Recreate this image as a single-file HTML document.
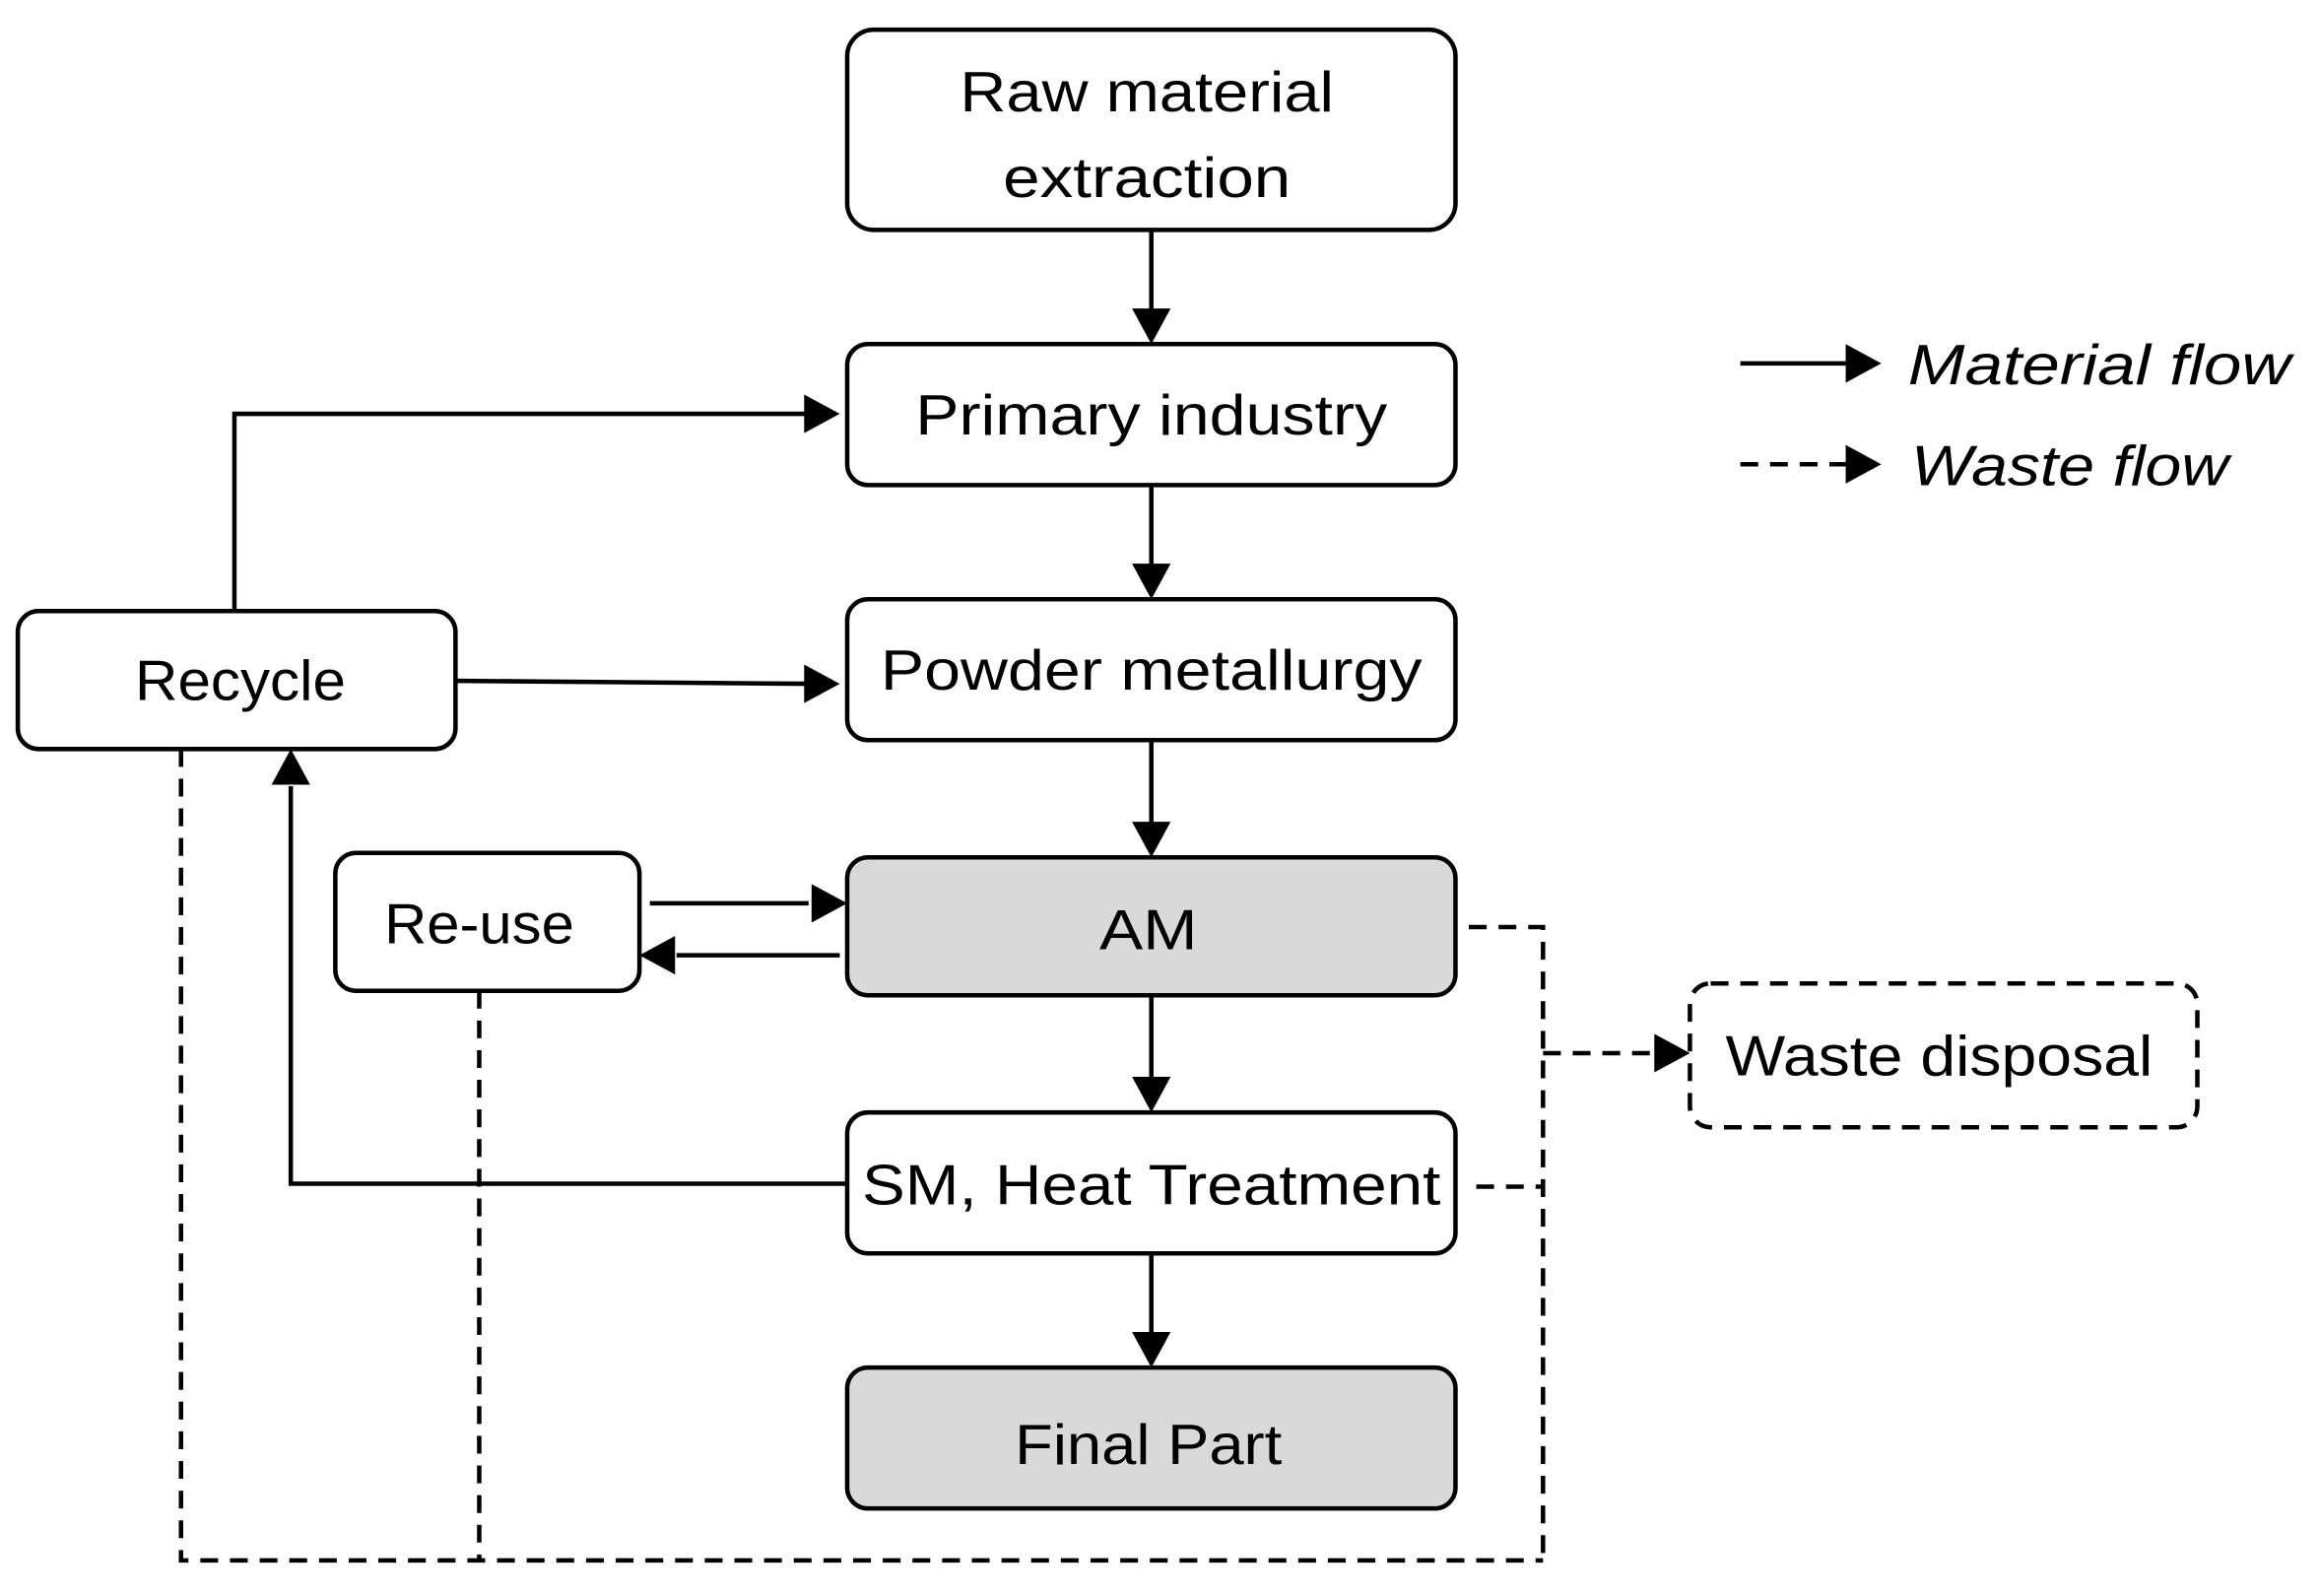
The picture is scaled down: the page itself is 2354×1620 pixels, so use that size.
<!DOCTYPE html>
<html><head><meta charset="utf-8"><style>html,body{margin:0;padding:0;background:#fff}svg{display:block}</style></head>
<body>
<svg width="2354" height="1620" viewBox="0 0 1563 1076" preserveAspectRatio="none" xmlns="http://www.w3.org/2000/svg" font-family="Liberation Sans, sans-serif" font-size="38">
<defs>
<marker id="a" markerWidth="10" markerHeight="10" refX="9" refY="5" orient="auto" markerUnits="userSpaceOnUse" viewBox="0 0 10 10">
</marker>
</defs>
<g fill="none" stroke="#000" stroke-width="3">
<rect x="571" y="20" width="410" height="135" rx="18" fill="#fff"/>
<rect x="571" y="232" width="410" height="95" rx="14" fill="#fff"/>
<rect x="571" y="404" width="410" height="95" rx="14" fill="#fff"/>
<rect x="571" y="578" width="410" height="93" rx="14" fill="#d9d9d9"/>
<rect x="571" y="750" width="410" height="95" rx="14" fill="#fff"/>
<rect x="571" y="922" width="410" height="95" rx="14" fill="#d9d9d9"/>
<rect x="12" y="412" width="295" height="93" rx="14" fill="#fff"/>
<rect x="226" y="575" width="205" height="93" rx="14" fill="#fff"/>
<rect x="1139" y="663" width="342" height="97" rx="14" fill="#fff" stroke-dasharray="12,8"/>
<!-- solid lines -->
<path d="M776 155V210M776 327V382M776 499V556M776 671V728M776 845V900"/>
<path d="M158 412V279H545"/>
<path d="M307 459L545 461"/>
<path d="M438 609H545"/>
<path d="M566 644H456"/>
<path d="M571 798H196V530"/>
<path d="M1173 245H1245"/>
<!-- dashed -->
<g stroke-dasharray="12,8">
<path d="M122 505V1052H1040"/>
<path d="M323 668V1052"/>
<path d="M990 625H1040V1052"/>
<path d="M995 800H1040"/>
<path d="M1040 710H1116"/>
<path d="M1173 313H1245"/>
</g>
</g>
<g fill="#000">
<path d="M776 232l-13-24h26z"/>
<path d="M776 404l-13-24h26z"/>
<path d="M776 578l-13-24h26z"/>
<path d="M776 750l-13-24h26z"/>
<path d="M776 922l-13-24h26z"/>
<path d="M566 279l-24-13v26z"/>
<path d="M566 461l-24-13v26z"/>
<path d="M571 609l-24-13v26z"/>
<path d="M431 644l24-13v26z"/>
<path d="M196 505l-13 24h26z"/>
<path d="M1139 710l-24-13v26z"/>
<path d="M1268 245l-24-13v26z"/>
<path d="M1268 313l-24-13v26z"/>
</g>
<g text-anchor="middle">
<text x="773" y="75" textLength="252" lengthAdjust="spacingAndGlyphs">Raw material</text>
<text x="773" y="133" textLength="194" lengthAdjust="spacingAndGlyphs">extraction</text>
<text x="776" y="293" textLength="318" lengthAdjust="spacingAndGlyphs">Primary industry</text>
<text x="776" y="465" textLength="365" lengthAdjust="spacingAndGlyphs">Powder metallurgy</text>
<text x="774" y="640" textLength="66" lengthAdjust="spacingAndGlyphs">AM</text>
<text x="776" y="812" textLength="390" lengthAdjust="spacingAndGlyphs">SM, Heat Treatment</text>
<text x="774" y="987" textLength="180" lengthAdjust="spacingAndGlyphs">Final Part</text>
<text x="162" y="472" textLength="142" lengthAdjust="spacingAndGlyphs">Recycle</text>
<text x="323" y="636" textLength="128" lengthAdjust="spacingAndGlyphs">Re-use</text>
<text x="1307" y="725" textLength="288" lengthAdjust="spacingAndGlyphs">Waste disposal</text>
</g>
<g font-style="italic">
<text x="1286" y="259" textLength="258" lengthAdjust="spacingAndGlyphs">Material flow</text>
<text x="1288" y="327" textLength="214" lengthAdjust="spacingAndGlyphs">Waste flow</text>
</g>
</svg>
</body></html>
